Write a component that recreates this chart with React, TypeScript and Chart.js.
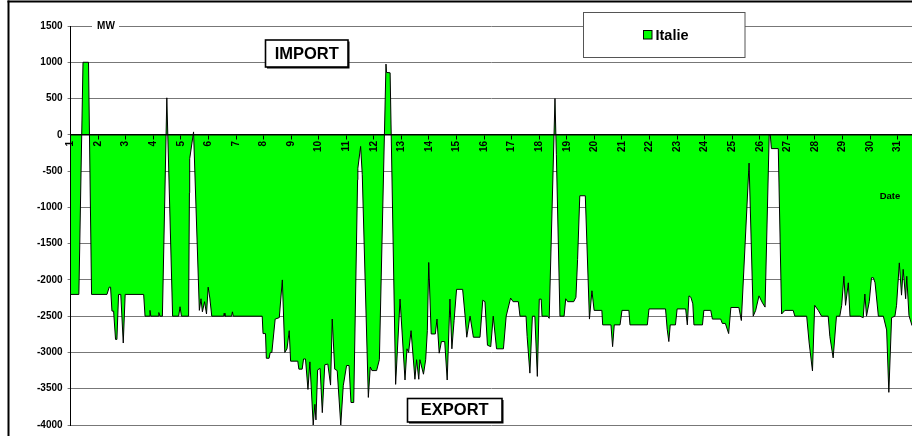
import React, { useEffect, useRef } from "react";
import { Chart, registerables } from "chart.js";

Chart.register(...registerables);

// ---- Data (day of month as decimal, MW) ----
const seriesName = "Italie";
const unitLabel = "MW";
const xAxisTitle = "Date";
const importLabel = "IMPORT";
const exportLabel = "EXPORT";

const dayTicks = [1, 2, 3, 4, 5, 6, 7, 8, 9, 10, 11, 12, 13, 14, 15, 16, 17, 18, 19, 20, 21, 22, 23, 24, 25, 26, 27, 28, 29, 30, 31];
const yTickValues = [-4000, -3500, -3000, -2500, -2000, -1500, -1000, -500, 0, 500, 1000, 1500];

const times = [
  1.0, 1.3, 1.45, 1.65, 1.76, 2.32, 2.4, 2.45, 2.5, 2.56, 2.63, 2.68, 2.74, 2.82, 2.91, 2.98,
  3.65, 3.7, 3.86, 3.88, 3.91, 4.18, 4.2, 4.24, 4.33, 4.49, 4.7, 4.92, 4.97, 5.02, 5.28, 5.31,
  5.32, 5.46, 5.67, 5.73, 5.78, 5.86, 5.93, 5.99, 6.05, 6.12, 6.55, 6.57, 6.6, 6.84, 6.87, 6.9,
  7.95, 7.98, 8.07, 8.1, 8.2, 8.24, 8.3, 8.42, 8.57, 8.68, 8.77, 8.85, 8.93, 8.98, 9.24, 9.28,
  9.4, 9.45, 9.52, 9.61, 9.68, 9.8, 9.86, 9.9, 9.96, 10.05, 10.13, 10.22, 10.33, 10.43, 10.49, 10.58,
  10.67, 10.8, 10.89, 11.01, 11.1, 11.17, 11.27, 11.41, 11.42, 11.52, 11.58, 11.8, 11.87, 11.93, 12.1, 12.2,
  12.44, 12.46, 12.59, 12.79, 12.95, 13.13, 13.2, 13.26, 13.35, 13.49, 13.55, 13.63, 13.67, 13.8, 13.88, 13.94,
  13.99, 14.08, 14.23, 14.29, 14.37, 14.45, 14.57, 14.66, 14.76, 14.83, 14.91, 15.0, 15.22, 15.31, 15.37, 15.49,
  15.61, 15.85, 15.95, 16.03, 16.12, 16.24, 16.33, 16.45, 16.7, 16.8, 16.96, 17.05, 17.24, 17.3, 17.52, 17.56,
  17.66, 17.75, 17.84, 17.93, 18.0, 18.07, 18.1, 18.3, 18.36, 18.57, 18.62, 18.75, 18.9, 18.96, 19.03, 19.25,
  19.33, 19.39, 19.47, 19.67, 19.82, 19.91, 19.99, 20.27, 20.3, 20.6, 20.66, 20.72, 20.93, 21.0, 21.25, 21.29,
  21.92, 21.98, 22.58, 22.64, 22.7, 22.75, 22.94, 23.0, 23.31, 23.37, 23.43, 23.5, 23.57, 23.61, 23.92, 23.97,
  24.22, 24.28, 24.58, 24.64, 24.75, 24.87, 24.95, 25.24, 25.33, 25.61, 25.76, 25.85, 25.97, 26.1, 26.19, 26.34,
  26.38, 26.42, 26.67, 26.79, 26.91, 27.21, 27.27, 27.7, 27.79, 27.91, 27.99, 28.12, 28.24, 28.48, 28.54, 28.66,
  28.78, 28.9, 28.97, 29.05, 29.11, 29.21, 29.27, 29.63, 29.75, 29.81, 29.87, 29.97, 30.05, 30.12, 30.18, 30.3,
  30.48, 30.6, 30.68, 30.78, 30.9, 30.96, 31.06, 31.14, 31.2, 31.29, 31.33, 31.41, 31.52, 31.6,
];

const values = [
  -2200, -2200, 1000, 1000, -2200, -2200, -2100, -2100, -2430, -2430, -2820, -2820, -2200, -2200, -2870, -2200,
  -2200, -2500, -2500, -2420, -2500, -2500, -2450, -2500, -2500, 510, -2500, -2500, -2370, -2500, -2500, -800,
  -330, 40, -2420, -2260, -2440, -2300, -2470, -2100, -2250, -2500, -2500, -2460, -2500, -2500, -2440, -2500,
  -2500, -2740, -2740, -3080, -3080, -3000, -3000, -2540, -2520, -2000, -3000, -2950, -2700, -3120, -3120, -3230,
  -3230, -3090, -3090, -3510, -3130, -4000, -3715, -3930, -3240, -3220, -3830, -3170, -3160, -3450, -2540, -3230,
  -3250, -4000, -3460, -3180, -3180, -3690, -3690, -620, -460, -160, -550, -3620, -3200, -3250, -3250, -3100,
  975, 860, 855, -3440, -2265, -3380, -2950, -3000, -2700, -3370, -3100, -3370, -3100, -3300, -3100, -2700,
  -1760, -2745, -2745, -2540, -3010, -2850, -2850, -3380, -2265, -2950, -2560, -2130, -2130, -2500, -2790, -2500,
  -2790, -2790, -2280, -2300, -2900, -2920, -2500, -2950, -2950, -2500, -2250, -2300, -2300, -2500, -2500, -2780,
  -3285, -2500, -2500, -3330, -2265, -2265, -2500, -2500, -2530, 500, -275, -2500, -2500, -2260, -2300, -2300,
  -2240, -1720, -840, -840, -2540, -2150, -2420, -2420, -2620, -2620, -2920, -2620, -2620, -2420, -2420, -2620,
  -2620, -2400, -2400, -2680, -2850, -2620, -2620, -2400, -2400, -2620, -2220, -2240, -2330, -2620, -2620, -2420,
  -2420, -2540, -2540, -2600, -2600, -2740, -2380, -2380, -2560, -390, -2500, -2420, -2220, -2320, -2375, 0,
  0, -190, -190, -2470, -2420, -2420, -2500, -2500, -2870, -3255, -2350, -2420, -2500, -2500, -2780, -3075,
  -2500, -2500, -2350, -1950, -2350, -2040, -2500, -2500, -2520, -2195, -2500, -2300, -1970, -1970, -2040, -2500,
  -2500, -2690, -3550, -2520, -2500, -2350, -1765, -2210, -1855, -2260, -1950, -2490, -2630, -2500,
];

const FONT = '"Liberation Sans", Arial, Helvetica, sans-serif';
const GREEN = "#00FF00";

const overlayPlugin = {
  id: "overlay",
  afterDraw(chart: any) {
    const ctx = chart.ctx as CanvasRenderingContext2D;
    const ys = chart.scales.y;
    const yTop = ys.getPixelForValue(1500);
    ctx.save();

    // outer frame (top and left edges)
    ctx.fillStyle = "#000";
    ctx.fillRect(7.5, 0.5, 2, 436);
    ctx.fillRect(7.5, 0.5, 905, 2);

    // unit label on top gridline
    ctx.fillStyle = "#fff";
    ctx.fillRect(92, yTop - 5, 27, 10);
    ctx.fillStyle = "#000";
    ctx.font = `bold 10px ${FONT}`;
    ctx.textAlign = "center";
    ctx.textBaseline = "middle";
    ctx.fillText(unitLabel, 106, yTop + 0.5);

    // axis title "Date"
    ctx.font = `bold 9.5px ${FONT}`;
    ctx.fillText(xAxisTitle, 890, 196);

    // legend box
    ctx.fillStyle = "#fff";
    ctx.fillRect(583.5, 12.5, 161.5, 45);
    ctx.strokeStyle = "#555";
    ctx.lineWidth = 1;
    ctx.strokeRect(583.5, 12.5, 161.5, 45);
    ctx.fillStyle = GREEN;
    ctx.fillRect(643.5, 30.5, 8.5, 8.5);
    ctx.strokeStyle = "#000";
    ctx.strokeRect(643.5, 30.5, 8.5, 8.5);
    ctx.fillStyle = "#000";
    ctx.font = `bold 14.5px ${FONT}`;
    ctx.textAlign = "left";
    ctx.fillText(seriesName, 655.5, 35.5);

    // IMPORT / EXPORT boxes
    const box = (x: number, y: number, w: number, h: number, text: string, size: number) => {
      ctx.fillStyle = "#000";
      ctx.fillRect(x + 1.5, y + 1.5, w, h);
      ctx.fillStyle = "#fff";
      ctx.fillRect(x, y, w, h);
      ctx.strokeStyle = "#000";
      ctx.lineWidth = 1.6;
      ctx.strokeRect(x, y, w, h);
      ctx.fillStyle = "#000";
      ctx.font = `bold ${size}px ${FONT}`;
      ctx.textAlign = "center";
      ctx.textBaseline = "middle";
      ctx.fillText(text, x + w / 2, y + h / 2 + 0.5);
    };
    box(265.5, 40, 82.5, 27, importLabel, 16.5);
    box(407.5, 398.5, 94.5, 23.5, exportLabel, 16.5);

    ctx.restore();
  },
};

export default function App() {
  const ref = useRef<HTMLCanvasElement | null>(null);

  useEffect(() => {
    if (!ref.current) return;
    const points = times.map((t, i) => ({ x: t, y: values[i] }));
    const chart = new Chart(ref.current, {
      type: "line",
      data: {
        datasets: [
          {
            label: seriesName,
            data: points,
            fill: "origin",
            backgroundColor: GREEN,
            borderColor: "#000",
            borderWidth: 1,
            pointRadius: 0,
            tension: 0,
          },
        ],
      },
      options: {
        responsive: false,
        animation: false,
        devicePixelRatio: 1,
        layout: { padding: { left: 0, right: 0, top: 26, bottom: 4.3 } },
        plugins: { legend: { display: false }, tooltip: { enabled: false } },
        scales: {
          x: {
            type: "linear",
            position: { y: 0 } as any,
            min: 1,
            max: 31.52,
            grid: { z: 1, drawOnChartArea: false, drawTicks: true, tickLength: 4, color: "#000", lineWidth: 1 },
            border: { z: 2, display: true, color: "#000", width: 1.5 },
            ticks: {
              z: 2,
              autoSkip: false,
              minRotation: 90,
              maxRotation: 90,
              padding: 2,
              color: "#000",
              font: { family: FONT, size: 10, weight: "bold" },
              callback: (v: any) => String(v),
            },
            afterBuildTicks: (s: any) => {
              s.ticks = dayTicks.map((v) => ({ value: v }));
            },
          },
          y: {
            type: "linear",
            min: -4000,
            max: 1500,
            grid: { color: "#777", lineWidth: 1, tickLength: 3, drawTicks: true },
            border: { z: 2, display: true, color: "#000", width: 1 },
            ticks: {
              padding: 5,
              color: "#000",
              font: { family: FONT, size: 10, weight: "bold" },
              callback: (v: any) => String(v),
            },
            afterBuildTicks: (s: any) => {
              s.ticks = yTickValues.map((v) => ({ value: v }));
            },
            afterFit: (s: any) => {
              s.width = 70.6;
            },
          },
        },
      },
      plugins: [overlayPlugin],
    });
    return () => chart.destroy();
  }, []);

  return (
    <div style={{ position: "fixed", left: 0, top: 0, width: 912, height: 436, background: "#fff", overflow: "hidden" }}>
      <canvas ref={ref} width={912} height={436} style={{ display: "block", width: 912, height: 436 }} />
    </div>
  );
}
